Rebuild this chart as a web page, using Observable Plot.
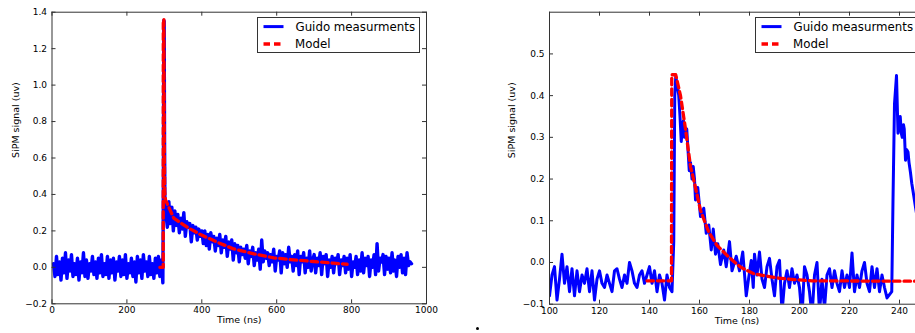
<!DOCTYPE html>
<html><head><meta charset="utf-8">
<script src="https://cdn.jsdelivr.net/npm/d3@7"></script>
<script src="https://cdn.jsdelivr.net/npm/@observablehq/plot@0.6"></script>
<style>
html,body{margin:0;padding:0;background:#fff;}
#page{position:relative;width:915px;height:333px;overflow:hidden;font-family:"DejaVu Sans",sans-serif;background:#fff;}
#left{position:absolute;left:0;top:0;width:460px;height:333px;}
#right{position:absolute;left:460px;top:0;width:498px;height:333px;}
#page svg{max-width:none !important;}
.legend{position:absolute;box-sizing:border-box;border:1px solid #333;background:#fff;}
.legend svg{display:block;overflow:visible;}
#dot{position:absolute;left:475.5px;top:326.8px;width:3px;height:3px;border-radius:50%;background:#000;}
</style></head><body>
<div id="page"><div id="left"></div><div id="right"></div><div id="dot"></div></div>
<script>
// ---------- Data ----------
const legendLabels = ["Guido measurments", "Model"];
const xLabel = "Time (ns)";
const yLabel = "SiPM signal (uv)";

// Left panel ticks
const leftXTicks = [0, 200, 400, 600, 800, 1000];
const leftYTicks = [-0.2, 0, 0.2, 0.4, 0.6, 0.8, 1.0, 1.2, 1.4];
// Right panel ticks
const rightXTicks = [100, 120, 140, 160, 180, 200, 220, 240];
const rightYTicks = [-0.1, 0, 0.1, 0.2, 0.3, 0.4, 0.5];

// Left measurement: baseline sampled every 4 ns from 4 ns
const leftBaseStart = 4, leftStep = 4;
const leftBase = [
  .02,-.05,.06,-.04,.03,-.07,.05,-.03,.08,-.06,.04,-.02,.07,-.05,.02,
  -.04,.05,-.07,.03,-.03,.08,-.05,.04,-.06,.02,-.02,.06,-.04,.03,-.06,
  .05,-.03,.07,-.05,.02,-.04,.06,-.06,.04,-.03,.05,-.07,.03,-.02,.06,
  -.05,.04,-.04,.07,-.06,.02,-.03,.05,-.05,.03,-.08,.06,-.03,.04,-.06,
  .07,-.02,.03,-.05,.06,-.04,.02,-.06,.05,-.03,.06,-.05,.04
];
// Left measurement: pulse
const leftPulseT = [296, 297.5, 298.5, 299.5, 300.5, 301.5, 303];
const leftPulseV = [-.085, .5, 1.355, 1.35, .7, .38, .28];
// Left measurement: tail sampled every 4 ns from 304 ns
const leftTailStart = 304;
const leftTail = [
  .30,.22,.36,.24,.33,.20,.31,.23,.29,.19,
  .27,.21,.30,.17,.25,.22,.24,.14,.23,.19,.22,.15,.21,.17,.20,
  .13,.20,.12,.18,.10,.19,.14,.17,.09,.16,.12,.18,.08,.15,.11,
  .17,.06,.14,.10,.15,.04,.13,.08,.12,.03,.11,.07,.10,.05,.12,
  .02,.09,.06,.11,.01,.08,.04,.10,-.01,.15,.03,.09,.05,.08,.01,
  .07,.03,.10,-.02,.06,.04,.09,-.03,.08,.02,.07,.00,.11,.03,.06,
  -.02,.07,.01,.09,-.04,.06,.03,.08,-.03,.05,.00,.09,-.02,.04,.07,
  -.03,.05,.01,.08,-.04,.06,.02,.07,-.05,.04,.00,.06,-.03,.05,.02,
  .07,-.04,.04,.01,.06,-.03,.05,-.01,.07,-.05,.03,.00,.06,-.04,.04,
  -.02,.08,-.03,.05,.01,.06,-.05,.04,.00,.07,-.04,.13,-.02,.05,.03,
  .07,-.04,.06,-.01,.05,-.03,.08,-.02,.04,-.05,.06,.00,.07,-.03,.05,
  -.04,.08,.01,.03,.02
];
// Left model
const leftModelT = [288, 297, 297.2, 298.8, 300, 301, 303, 307.5, 325, 361, 396.5, 441, 485.5, 539, 592, 645.6, 699, 752, 788];
const leftModelV = [0, 0, 1.36, 1.36, .6, .42, .37, .35, .27, .22, .18, .138, .101, .074, .052, .041, .032, .023, .017];

// Right measurement: baseline sampled every 1 ns from 100 ns
const rightBaseStart = 100, rightStep = 1;
const rightBase = [
  -.08,-.03,-.01,-.09,-.04,.02,-.05,-.01,-.07,-.015,
  -.08,-.02,-.07,-.03,-.05,-.015,-.07,-.02,-.09,-.04,
  -.02,-.05,-.06,-.03,-.05,-.07,-.02,-.015,-.04,-.06,
  -.03,-.05,0,-.02,-.05,-.06,-.03,-.02,-.05,-.03,
  -.01,-.05,-.02,-.07,-.03,-.05,-.09,-.03,-.06,-.07
];
// Right measurement: first pulse and decay
const rightPulseT = [149.7,150.1,150.5,151,151.7,152.2,152.7,153.2,153.6,154,154.5,154.9,155.3,155.9,156.4,157,157.5,158,158.4,159.3,160.4,161.7,162.7,163.7,164.7,165.5,166.4,167.3,168.4,169.7,170.7,172,173,174.7,176,177.3,178.7,179.6,180.7,181.5];
const rightPulseV = [.05,.40,.445,.43,.40,.35,.29,.33,.34,.30,.32,.32,.28,.22,.24,.20,.23,.20,.15,.18,.11,.13,.07,.09,.03,.08,.02,.045,-.005,.03,-.01,.05,-.02,.015,-.02,.025,-.08,-.04,.005,-.06];
// Right measurement: noise sampled every 1 ns from 182 ns
const rightMidStart = 182;
const rightMid = [
  .02,-.03,.025,-.04,-.06,-.01,.01,-.04,-.08,-.01,
  .005,-.12,-.05,-.02,-.06,-.015,-.05,-.03,-.06,-.13,
  -.01,-.03,-.07,-.13,-.03,0,-.12,-.04,-.11,-.03,
  -.015,-.06,-.02,-.05,-.07,-.02,-.06,-.03,-.06,.023,
  -.07,-.03,-.06,-.02,0,-.05,-.07,-.01,-.06,-.015,
  -.07,-.03,-.06,-.085
];
// Right measurement: second pulse
const rightPulse2T = [236.9,237.4,238,238.8,239.4,239.8,240.3,240.7,241.1,241.6,241.9,242.4,242.9,243.4,243.8,244.4,244.9,245.7,246.2,247];
const rightPulse2V = [-.07,.15,.38,.448,.31,.33,.35,.31,.30,.33,.32,.245,.27,.265,.24,.215,.19,.16,.14,.11];
// Right model
const rightModelT = [139, 148.8, 148.9, 150.5, 152.4, 154.4, 156.4, 158, 160.4, 163.7, 167, 171, 176.4, 181.7, 191, 198, 205, 250];
const rightModelV = [-.044, -.044, .45, .45, .40, .32, .23, .19, .125, .073, .041, .017, -.011, -.027, -.037, -.041, -.044, -.045];

// ---------- Build tables ----------
const leftSignal = [
  ...leftBase.map((v, i) => ({t: leftBaseStart + i * leftStep, v})),
  ...leftPulseT.map((t, i) => ({t, v: leftPulseV[i]})),
  ...leftTail.map((v, i) => ({t: leftTailStart + i * leftStep, v}))
];
const leftModel = leftModelT.map((t, i) => ({t, v: leftModelV[i]}));
const rightSignal = [
  ...rightBase.map((v, i) => ({t: rightBaseStart + i * rightStep, v})),
  ...rightPulseT.map((t, i) => ({t, v: rightPulseV[i]})),
  ...rightMid.map((v, i) => ({t: rightMidStart + i * rightStep, v})),
  ...rightPulse2T.map((t, i) => ({t, v: rightPulse2V[i]}))
];
const rightModel = rightModelT.map((t, i) => ({t, v: rightModelV[i]}));

// ---------- Drawing ----------
const BLUE = "#0000ff", RED = "#ff0000", AX = "#333";

function panel({width, height, ml, mr, mt, mb, xDomain, yDomain, xTicks, yTicks, xFmt, yFmt, signal, model, ylabelDx, blueWidth}) {
  const pw = width - ml - mr, ph = height - mt - mb;
  return Plot.plot({
    width, height, marginLeft: ml, marginRight: mr, marginTop: mt, marginBottom: mb,
    x: {domain: xDomain}, y: {domain: yDomain},
    style: {fontFamily: "'DejaVu Sans', sans-serif", fontSize: "9px", color: "#000", background: "transparent", overflow: "visible", maxWidth: "none"},
    marks: [
      Plot.line(signal, {x: "t", y: "v", stroke: BLUE, strokeWidth: blueWidth, strokeLinejoin: "round", clip: true}),
      Plot.line(model, {x: "t", y: "v", stroke: RED, strokeWidth: 3.3, strokeDasharray: "6.5,4", clip: true}),
      Plot.frame({stroke: AX, strokeWidth: 1}),
      Plot.tickY(yTicks, {y: d => d, stroke: AX, insetRight: pw - 4}),
      Plot.tickY(yTicks, {y: d => d, stroke: AX, insetLeft: pw - 4}),
      Plot.tickX(xTicks, {x: d => d, stroke: AX, insetTop: ph - 4}),
      Plot.tickX(xTicks, {x: d => d, stroke: AX, insetBottom: ph - 4}),
      Plot.axisX({ticks: xTicks, tickSize: 0, tickPadding: 3, tickFormat: xFmt, label: null, fontSize: 9}),
      Plot.axisY({ticks: yTicks, tickSize: 0, tickPadding: 5, tickFormat: yFmt, label: null, fontSize: 9}),
      Plot.text([xLabel], {frameAnchor: "bottom", dy: 19.6, text: d => d, fontSize: 9.5}),
      Plot.text([yLabel], {frameAnchor: "left", dx: ylabelDx, rotate: -90, text: d => d, fontSize: 9.5})
    ]
  });
}

const leftPlot = panel({
  width: 460, height: 333, ml: 51.5, mr: 34, mt: 11.7, mb: 29.7,
  xDomain: [0, 1000], yDomain: [-0.2, 1.4], xTicks: leftXTicks, yTicks: leftYTicks,
  xFmt: d3.format("d"), yFmt: d3.format(".1f"), signal: leftSignal, model: leftModel, ylabelDx: -36.5, blueWidth: 3.4
});
const rightPlot = panel({
  width: 498, height: 333, ml: 89, mr: 34, mt: 11.7, mb: 29.3,
  xDomain: [100, 250], yDomain: [-0.1, 0.6], xTicks: rightXTicks, yTicks: rightYTicks,
  xFmt: d3.format("d"), yFmt: d3.format(".1f"), signal: rightSignal, model: rightModel, ylabelDx: -37.3, blueWidth: 3
});
leftPlot.style.maxWidth = "none";
rightPlot.style.maxWidth = "none";
document.getElementById("left").appendChild(leftPlot);
document.getElementById("right").appendChild(rightPlot);

function legend(left, top) {
  const div = document.createElement("div");
  div.className = "legend";
  div.style.left = left + "px";
  div.style.top = top + "px";
  div.style.width = "163.5px";
  div.style.height = "35.5px";
  div.innerHTML = `<svg width="162" height="34" style="font-family:'DejaVu Sans',sans-serif;font-size:11.8px">
    <line x1="5.5" x2="25.5" y1="8.6" y2="8.6" stroke="${BLUE}" stroke-width="3"/>
    <text x="37.5" y="13" fill="#000">${legendLabels[0]}</text>
    <line x1="5.5" x2="25.5" y1="26" y2="26" stroke="${RED}" stroke-width="3.3" stroke-dasharray="6.5,4"/>
    <text x="37" y="30.3" fill="#000">${legendLabels[1]}</text>
  </svg>`;
  document.getElementById("page").appendChild(div);
}
legend(256.7, 17.3);
legend(755, 17.3);
</script>
</body></html>
